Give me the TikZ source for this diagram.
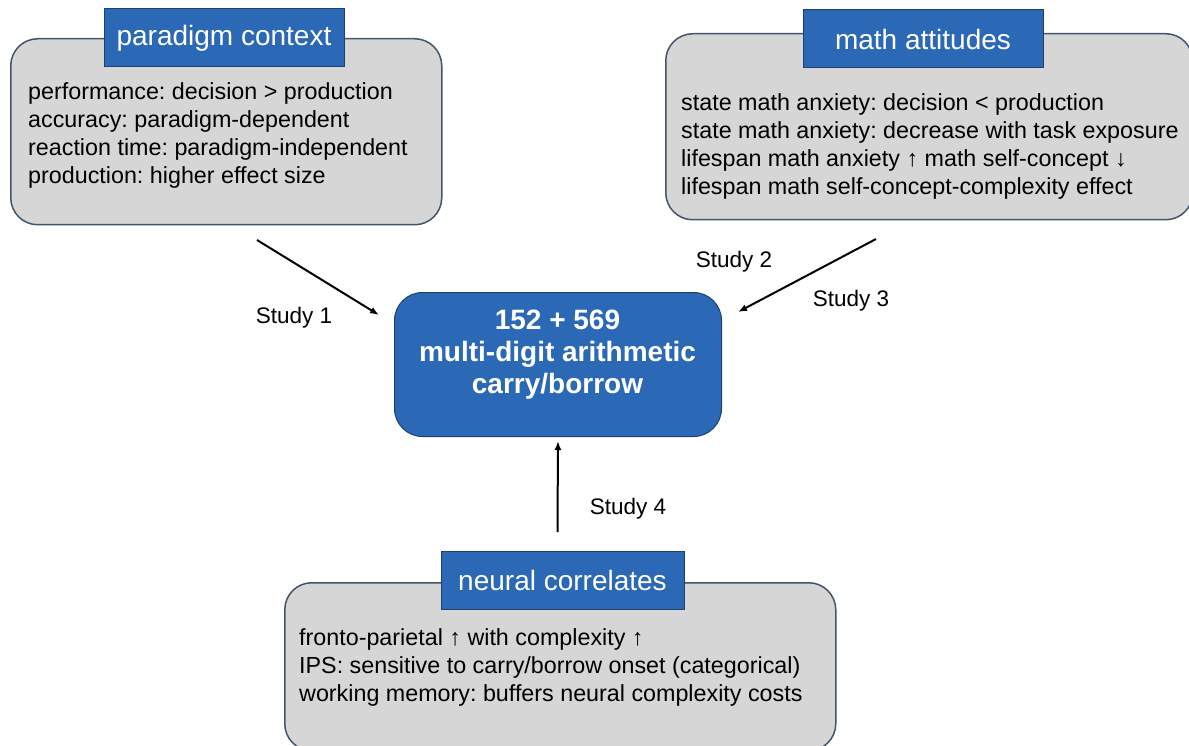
\documentclass[tikz,border=0pt]{standalone}
\usepackage{fontspec}
\setmainfont{Liberation Sans}
\usetikzlibrary{arrows.meta,calc}
\definecolor{hdrblue}{HTML}{2B68B6}
\definecolor{hdredge}{HTML}{1F3F6E}
\definecolor{panelgray}{HTML}{D6D6D6}
\definecolor{paneledge}{HTML}{44546A}
\frenchspacing

\begin{document}
\begin{tikzpicture}[x=1pt,y=-1pt,
  panel/.style={draw=paneledge, line width=1.5pt, fill=panelgray,
    rounded corners=27pt, anchor=north west, inner sep=0pt},
  header/.style={draw=hdredge, line width=1pt, fill=hdrblue, text=white,
    font=\fontsize{28}{32}\selectfont, inner sep=0pt,
    minimum width=240pt, minimum height=58pt},
  body/.style={anchor=north west, align=left, inner sep=0pt,
    font=\fontsize{23.3}{28}\selectfont},
  core/.style={draw=hdredge, line width=1pt, fill=hdrblue,
    rounded corners=28pt, anchor=north west, inner sep=0pt},
  coretext/.style={anchor=north, align=center, inner sep=0pt, text=white,
    font=\bfseries\fontsize{28}{32}\selectfont},
  studylabel/.style={anchor=base, inner sep=0pt,
    font=\fontsize{22.5}{27}\selectfont},
  conn/.style={line width=2pt, -{Latex[length=9pt,width=7pt]}}]

\useasboundingbox (0,0) rectangle (1189,746);
\clip (0,0) rectangle (1189,746);

% paradigm context panel
\node[panel, minimum width=431pt, minimum height=186pt] (ctx) at (10,38) {};
\node[header] (ctxhead) at (224,38) {paradigm context};
\node[body] (ctxtext) at (28,82) {performance: decision > production\\
  accuracy: paradigm-dependent\\
  reaction time: paradigm-independent\\
  production: higher effect size};

% math attitudes panel
\node[panel, minimum width=527pt, minimum height=186pt] (att) at (665,33) {};
\node[header] (atthead) at (923,39) {math attitudes};
\node[body] (atttext) at (681,93) {state math anxiety: decision < production\\
  state math anxiety: decrease with task exposure\\
  lifespan math anxiety ↑ math self-concept ↓\\
  lifespan math self-concept-complexity effect};

% central task
\node[core, minimum width=327pt, minimum height=144pt] (arith) at (394,292) {};
\node[coretext] (arithtext) at (557.5,310) {152 + 569\\
  multi-digit arithmetic\\
  carry/borrow};

% neural correlates panel
\node[panel, minimum width=551pt, minimum height=168pt] (neu) at (284,582) {};
\node[header, minimum width=243pt] (neuhead) at (562.5,580) {neural correlates};
\node[body] (neutext) at (299,628) {fronto-parietal ↑ with complexity ↑\\
  IPS: sensitive to carry/borrow onset (categorical)\\
  working memory: buffers neural complexity costs};

% connectors
\coordinate (s1from) at (257,240);
\coordinate (s1to) at (379,315);
\coordinate (s23from) at (876,239);
\coordinate (s23to) at (738,312);
\coordinate (s4from) at (557.5,532);
\draw[conn] (s1from) -- (s1to);
\draw[conn] (s23from) -- (s23to);
\draw[conn, shorten >=4pt] (s4from) -- (arith.south);

% study labels
\node[studylabel] (st1) at (294,323) {Study 1};
\node[studylabel] (st2) at (734,267) {Study 2};
\node[studylabel] (st3) at (851,306) {Study 3};
\node[studylabel] (st4) at (628,514) {Study 4};
\end{tikzpicture}
\end{document}
